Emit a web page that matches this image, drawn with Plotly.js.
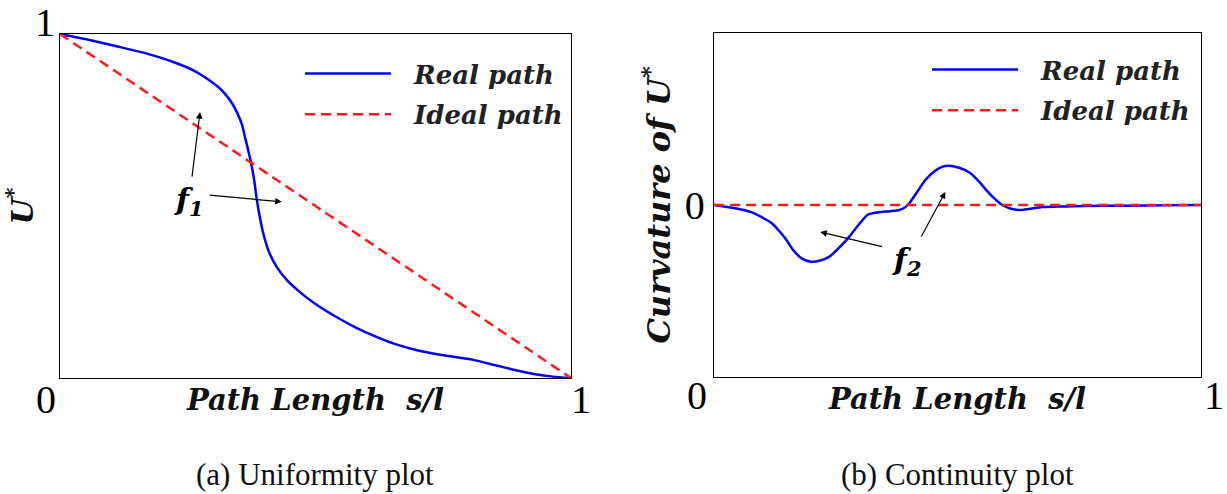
<!DOCTYPE html>
<html>
<head>
<meta charset="utf-8">
<script src="https://cdn.plot.ly/plotly-3.0.1.min.js"></script>
<style>
  html, body { margin: 0; padding: 0; background: #ffffff; }
  #chart { width: 1227px; height: 494px; }
</style>
</head>
<body>
<div id="chart"></div>
<script>
// (a) Uniformity: normalised potential U* along the path
const sReal = [0, 0.06, 0.115, 0.17, 0.223, 0.26, 0.285, 0.308, 0.323, 0.337, 0.347, 0.356,
  0.362, 0.368, 0.374, 0.38, 0.385, 0.391, 0.397, 0.408, 0.424, 0.445, 0.47, 0.5, 0.54,
  0.58, 0.617, 0.655, 0.695, 0.75, 0.811, 0.85, 0.888, 0.93, 0.965, 1.0];
const uReal = [1.0, 0.982, 0.963, 0.943, 0.918, 0.895, 0.873, 0.848, 0.826, 0.798, 0.77, 0.737,
  0.70, 0.664, 0.625, 0.575, 0.52, 0.468, 0.425, 0.37, 0.323, 0.283, 0.249, 0.215, 0.178,
  0.146, 0.121, 0.099, 0.082, 0.066, 0.052, 0.038, 0.024, 0.011, 0.004, 0.0];
const sIdeal = [0, 1];
const uIdeal = [1, 0];

// (b) Continuity: curvature of U* along the path
const sCurv = [0, 0.046, 0.075, 0.096, 0.118, 0.133, 0.148, 0.162, 0.18, 0.199, 0.218, 0.237,
  0.258, 0.278, 0.297, 0.315, 0.33, 0.344, 0.362, 0.381, 0.393, 0.401, 0.418, 0.434, 0.452,
  0.468, 0.484, 0.505, 0.526, 0.543, 0.559, 0.575, 0.592, 0.61, 0.625, 0.645, 0.674, 0.72,
  0.757, 0.85, 0.93, 1.0];
const kCurv = [0, -0.02, -0.04, -0.068, -0.105, -0.148, -0.20, -0.26, -0.31, -0.33, -0.323, -0.30,
  -0.245, -0.184, -0.115, -0.058, -0.045, -0.04, -0.036, -0.029, -0.012, 0.01, 0.08, 0.145, 0.195,
  0.222, 0.228, 0.215, 0.186, 0.14, 0.087, 0.04, 0.0, -0.022, -0.029, -0.024, -0.012, -0.008,
  -0.006, -0.004, -0.002, 0];
const sCurvIdeal = [0, 1];
const kCurvIdeal = [0, 0];

const legendNames = ['Real path', 'Ideal path'];
const axisTitleX = 'Path Length  s/l';
const axisTitleYa = 'U<sup>*</sup>';
const axisTitleYb = 'Curvature of U<sup>*</sup>';
const captions = ['(a) Uniformity plot', '(b) Continuity plot'];

const BLUE = '#0000ff';
const RED = '#ff1a1a';
const NBSP = '\u00a0\u00a0';
const numFont = { family: 'Liberation Serif, serif', size: 40, color: '#000' };
const mathFont = { family: 'DejaVu Serif, serif', size: 29, color: '#111', weight: 'bold', style: 'italic' };
const yTitleFont = { family: 'DejaVu Serif, serif', size: 30, color: '#111', weight: 'bold', style: 'italic' };
const yTitleFontB = { family: 'DejaVu Serif, serif', size: 32, color: '#111', weight: 'bold', style: 'italic' };
const legFont = { family: 'DejaVu Serif, serif', size: 26, color: '#222', weight: 'bold', style: 'italic' };
const annFont = { family: 'DejaVu Serif, serif', size: 30, color: '#000', weight: 'bold', style: 'italic' };
const capFont = { family: 'Liberation Serif, serif', size: 31, color: '#111' };

const traces = [
  { x: sReal, y: uReal, xaxis: 'x', yaxis: 'y', name: NBSP + legendNames[0], legend: 'legend', legendgroup: 'a1',
    mode: 'lines', line: { color: BLUE, width: 2.5, shape: 'spline', smoothing: 0.6 } },
  { x: sIdeal, y: uIdeal, xaxis: 'x', yaxis: 'y', name: NBSP + legendNames[1], legend: 'legend', legendgroup: 'a2',
    mode: 'lines', line: { color: RED, width: 2.5, dash: '10px,6px' } },
  { x: sCurv, y: kCurv, xaxis: 'x2', yaxis: 'y2', name: NBSP + legendNames[0], legend: 'legend2', legendgroup: 'b1',
    mode: 'lines', line: { color: BLUE, width: 2.5, shape: 'spline', smoothing: 0.6 } },
  { x: sCurvIdeal, y: kCurvIdeal, xaxis: 'x2', yaxis: 'y2', name: NBSP + legendNames[1], legend: 'legend2', legendgroup: 'b2',
    mode: 'lines', line: { color: RED, width: 2.5, dash: '10px,6px' } }
];

const W = 1227, H = 494;
const px = v => v / W;
const py = v => 1 - v / H;

const boxAxis = {
  showline: true, linecolor: '#000', linewidth: 1.2, mirror: true,
  showgrid: false, zeroline: false, ticks: '', fixedrange: true
};

function arrow(xref, yref, x, y, ax, ay) {
  return { xref, yref, x, y, axref: xref, ayref: yref, ax, ay, text: '', showarrow: true,
    arrowhead: 2, arrowsize: 1.1, arrowwidth: 1.2, arrowcolor: '#000' };
}

const annotations = [
  // corner labels of panel (a)
  { xref: 'x', yref: 'y', x: 0, y: 1, text: '1', showarrow: false, font: numFont, xshift: -15, yshift: 11 },
  { xref: 'x', yref: 'y', x: 0, y: 0, text: '0', showarrow: false, font: numFont, xshift: -14, yshift: -21 },
  { xref: 'x', yref: 'y', x: 1, y: 0, text: '1', showarrow: false, font: numFont, xshift: 10, yshift: -21 },
  // corner labels of panel (b)
  { xref: 'x2', yref: 'y2', x: 0, y: -1, text: '0', showarrow: false, font: numFont, xshift: -17, yshift: -18 },
  { xref: 'x2', yref: 'y2', x: 1, y: -1, text: '1', showarrow: false, font: numFont, xshift: 13, yshift: -18 },
  // f1 callout
  { xref: 'x', yref: 'y', x: 0.252, y: 0.512, text: 'f<sub>1</sub>', showarrow: false, font: annFont },
  arrow('x', 'y', 0.274, 0.773, 0.258, 0.581),
  arrow('x', 'y', 0.434, 0.512, 0.290, 0.532),
  // f2 callout
  { xref: 'x2', yref: 'y2', x: 0.397, y: -0.33, text: 'f<sub>2</sub>', showarrow: false, font: annFont },
  arrow('x2', 'y2', 0.218, -0.157, 0.348, -0.244),
  arrow('x2', 'y2', 0.475, 0.076, 0.424, -0.192),
  // captions
  { xref: 'paper', yref: 'paper', x: px(315), y: py(474), xanchor: 'center', yanchor: 'middle',
    text: captions[0], showarrow: false, font: capFont },
  { xref: 'paper', yref: 'paper', x: px(957), y: py(474), xanchor: 'center', yanchor: 'middle',
    text: captions[1], showarrow: false, font: capFont }
];

const layout = {
  width: W, height: H,
  margin: { l: 0, r: 0, t: 0, b: 0 },
  paper_bgcolor: '#fff', plot_bgcolor: '#fff',
  xaxis: Object.assign({}, boxAxis, { domain: [px(60), px(571)], range: [0, 1], showticklabels: false,
    title: { text: axisTitleX, font: mathFont, standoff: 11 } }),
  yaxis: Object.assign({}, boxAxis, { domain: [py(378), py(34)], range: [0, 1], showticklabels: false,
    title: { text: axisTitleYa, font: yTitleFont, standoff: 16 } }),
  xaxis2: Object.assign({}, boxAxis, { anchor: 'y2', domain: [px(714), px(1201)], range: [0, 1], showticklabels: false,
    title: { text: axisTitleX, font: mathFont, standoff: 11 } }),
  yaxis2: Object.assign({}, boxAxis, { anchor: 'x2', domain: [py(377), py(33)], range: [-1, 1],
    tickvals: [0], ticktext: ['0'], tickfont: numFont,
    title: { text: axisTitleYb, font: yTitleFontB, standoff: 4 } }),
  legend: { x: px(300), y: py(50), xanchor: 'left', yanchor: 'top', bgcolor: 'rgba(0,0,0,0)',
    font: legFont, tracegroupgap: 4, itemwidth: 86 },
  legend2: { x: px(927), y: py(46), xanchor: 'left', yanchor: 'top', bgcolor: 'rgba(0,0,0,0)',
    font: legFont, tracegroupgap: 4, itemwidth: 86 },
  annotations: annotations,
  showlegend: true
};

Plotly.newPlot('chart', traces, layout, { staticPlot: true, displayModeBar: false });
</script>
</body>
</html>
